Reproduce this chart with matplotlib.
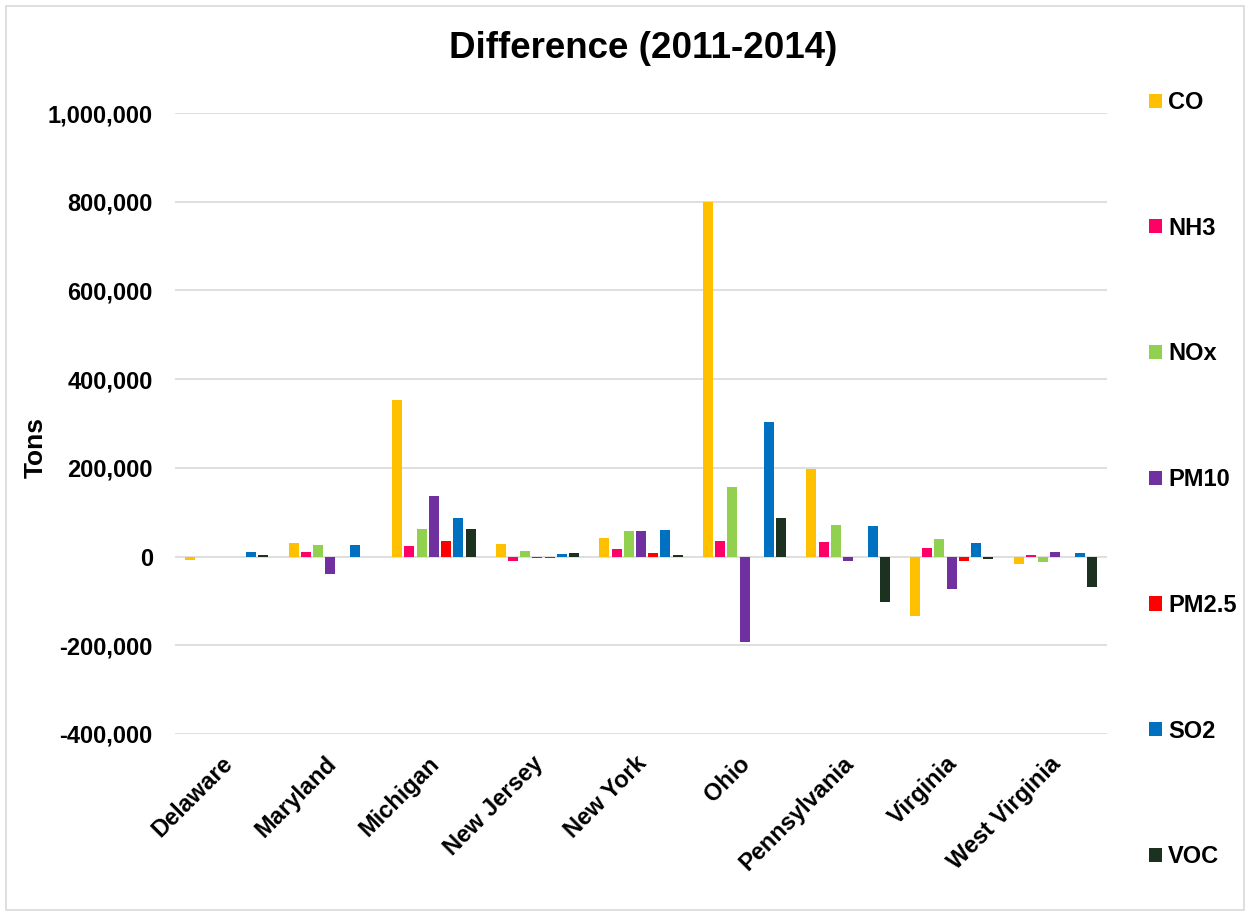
import matplotlib
matplotlib.use("Agg")
import matplotlib.pyplot as plt
from matplotlib.patches import Rectangle
from matplotlib.ticker import FuncFormatter, MultipleLocator
from matplotlib.transforms import ScaledTranslation
import numpy as np

plt.rcParams["font.family"] = ["Liberation Sans", "DejaVu Sans"]
plt.rcParams["font.weight"] = "bold"

states = ["Delaware", "Maryland", "Michigan", "New Jersey", "New York",
          "Ohio", "Pennsylvania", "Virginia", "West Virginia"]

# change in emissions, 2011 -> 2014, tons
co = [-8000, 31000, 352000, 28000, 41000, 800000, 198000, -133000, -17000]
nh3 = [0, 11000, 23000, -9000, 16000, 35000, 33000, 20000, 2500]
nox = [0, 27000, 63000, 12000, 57000, 157000, 71000, 40000, -13000]
pm10 = [0, -39000, 136000, -3000, 57000, -192000, -10000, -72000, 10000]
pm25 = [0, 0, 36000, -3000, 9000, 0, 0, -11000, 0]
so2 = [11000, 25000, 86000, 5000, 61000, 304000, 69000, 31000, 7000]
voc = [4000, 0, 63000, 9000, 4500, 87000, -103000, -6000, -69000]

pollutants = ["CO", "NH3", "NOx", "PM10", "PM2.5", "SO2", "VOC"]
series = [co, nh3, nox, pm10, pm25, so2, voc]
colors = ["#FFC000", "#FF0066", "#92D050", "#7030A0", "#FF0000", "#0070C0", "#1C3120"]

W, H = 1250, 915
fig = plt.figure(figsize=(W / 100, H / 100), dpi=100)
fig.patches.append(Rectangle((6 / W, 5 / H), 1238 / W, 904 / H, transform=fig.transFigure,
                             fill=False, edgecolor="#D9D9D9", linewidth=1.2))

ax = fig.add_axes([175 / W, 1 - 734 / H, 932 / W, 621 / H])
x = np.arange(len(states))
step, width = 0.118, 0.097
for i, (name, vals, c) in enumerate(zip(pollutants, series, colors)):
    ax.bar(x + (i - 3) * step, vals, width=width, color=c, label=name, zorder=3)

ax.set_xlim(-0.5, len(states) - 0.5)
ax.set_ylim(-400000, 1000000)
ax.yaxis.set_major_locator(MultipleLocator(200000))
ax.yaxis.set_major_formatter(FuncFormatter(lambda v, _: f"{v:,.0f}"))
ax.grid(axis="y", color="#D9D9D9", linewidth=1.2, zorder=0)
for s in ax.spines.values():
    s.set_visible(False)
ax.tick_params(axis="both", length=0, labelsize=17)
ax.tick_params(axis="y", pad=16)
ax.tick_params(axis="x", pad=13)
ax.set_xticks(x)
ax.set_xticklabels(states, rotation=45, ha="right", va="top", rotation_mode="anchor")
shift = ScaledTranslation(-6 / 100, 0, fig.dpi_scale_trans)
for lbl in ax.get_xticklabels():
    lbl.set_transform(lbl.get_transform() + shift)

ax.set_ylabel("Tons", fontsize=19, fontweight="bold")
ax.yaxis.set_label_coords((48 - 175) / 932, (734 - 448) / 621)

fig.text(643 / W, 1 - 48 / H, "Difference (2011-2014)", ha="center", va="center",
         fontsize=26.5, fontweight="bold")

fig.legend(loc="upper left", bbox_to_anchor=(1149 / W, 1 - 91 / H), frameon=False,
           fontsize=17, labelspacing=4.35, handlelength=0.55, handleheight=0.55,
           handletextpad=0.25, borderpad=0, borderaxespad=0)

fig.savefig("out.png", dpi=100)
